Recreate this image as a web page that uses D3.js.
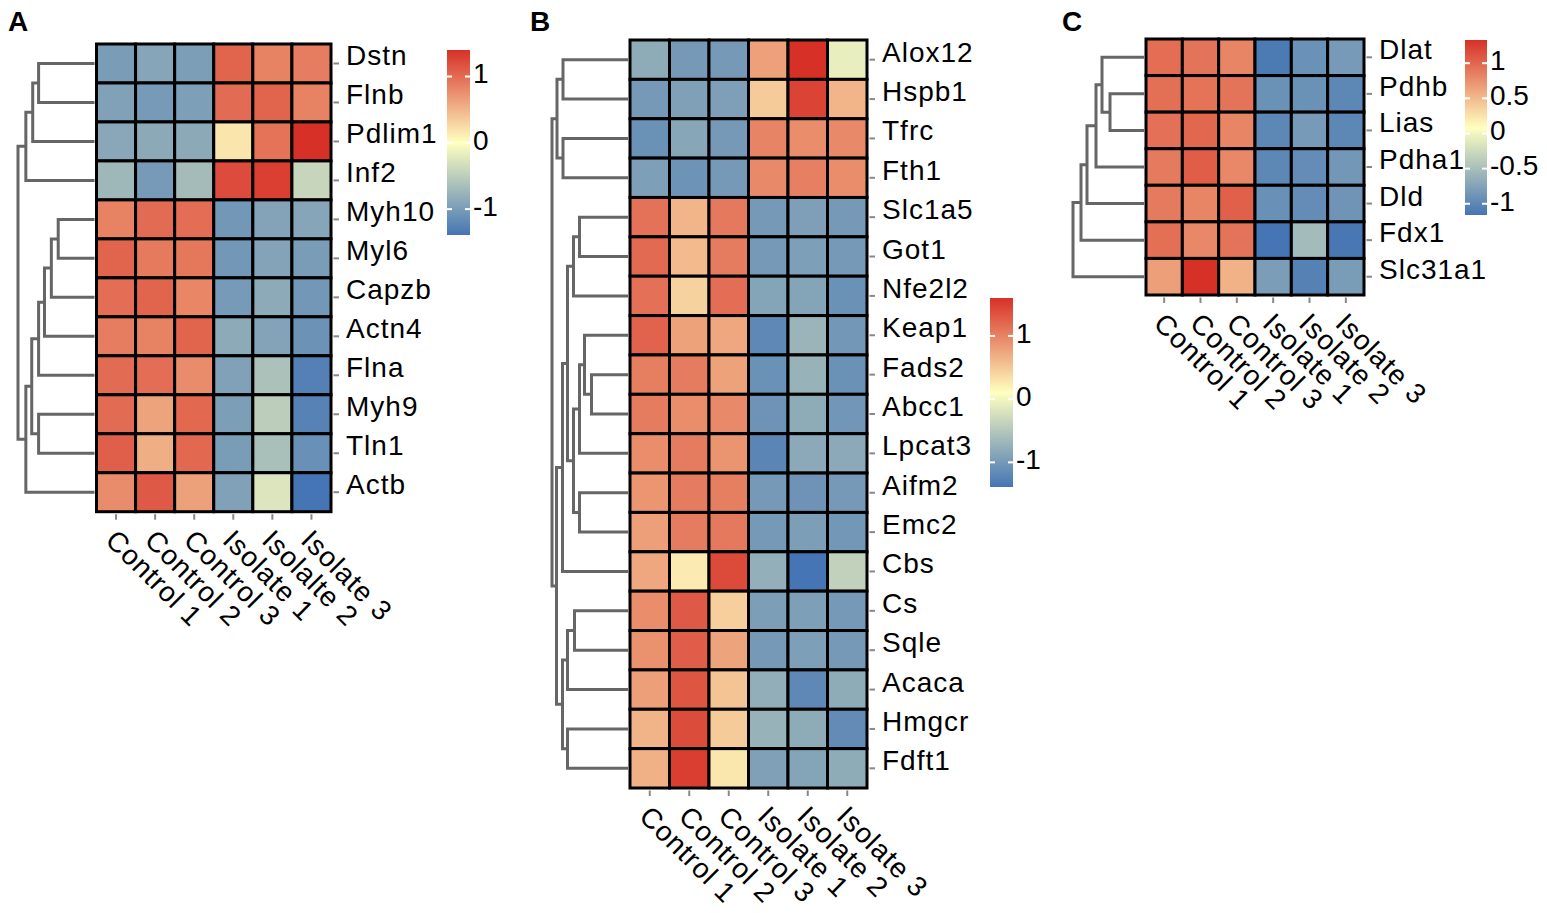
<!DOCTYPE html>
<html>
<head>
<meta charset="utf-8">
<script src="https://cdn.jsdelivr.net/npm/d3@7"></script>
<style>
  body { margin: 0; background: #fff; }
  text { font-family: "Liberation Sans", Arial, sans-serif; fill: #000; }
</style>
</head>
<body>
<div id="chart"></div>
<script>

// ---- data ----
const samplesA = ["Control 1", "Control 2", "Control 3", "Isolate 1", "Isolalte 2", "Isolate 3"];
const samplesBC = ["Control 1", "Control 2", "Control 3", "Isolate 1", "Isolate 2", "Isolate 3"];

const genesA = ["Dstn", "Flnb", "Pdlim1", "Inf2", "Myh10", "Myl6", "Capzb", "Actn4", "Flna", "Myh9", "Tln1", "Actb"];
const valuesA = [
    [-1.00, -0.90, -0.98, 1.05, 0.85, 0.88],
    [-0.95, -1.02, -0.97, 1.00, 1.05, 0.85],
    [-0.88, -0.86, -0.86, 0.18, 0.95, 1.40],
    [-0.72, -1.02, -0.68, 1.22, 1.30, -0.42],
    [0.85, 1.00, 0.98, -1.05, -0.92, -0.90],
    [1.05, 0.90, 0.92, -1.05, -0.92, -1.00],
    [0.98, 1.05, 0.82, -1.02, -0.85, -1.05],
    [0.88, 0.85, 1.05, -0.85, -0.92, -1.10],
    [1.00, 0.98, 0.78, -0.95, -0.62, -1.28],
    [1.00, 0.62, 1.02, -0.98, -0.50, -1.26],
    [1.08, 0.55, 1.02, -1.00, -0.64, -1.12],
    [0.78, 1.12, 0.64, -0.95, -0.26, -1.39]
];
// dendrogram: [height, child, child], leaves are gene names
const treeA = [7.8,
    [7.0, [6.3, [5.7, "Dstn", "Flnb"], "Pdlim1"], "Inf2"],
    [7.0, [6.4, [5.7, [5.1, [4.4, [3.7, "Myh10", "Myl6"], "Capzb"], "Actn4"], "Flna"], [5.7, "Myh9", "Tln1"]], "Actb"]
];

const genesB = ["Alox12", "Hspb1", "Tfrc", "Fth1", "Slc1a5", "Got1", "Nfe2l2", "Keap1", "Fads2", "Abcc1",
    "Lpcat3", "Aifm2", "Emc2", "Cbs", "Cs", "Sqle", "Acaca", "Hmgcr", "Fdft1"];
const valuesB = [
    [-0.80, -1.00, -1.00, 0.79, 1.60, -0.08],
    [-1.00, -0.92, -0.93, 0.48, 1.46, 0.64],
    [-1.09, -0.86, -1.00, 0.99, 0.93, 0.95],
    [-0.94, -1.07, -1.00, 0.95, 1.02, 0.93],
    [1.12, 0.64, 1.07, -1.00, -0.93, -1.00],
    [1.18, 0.60, 1.05, -1.00, -0.94, -1.00],
    [1.13, 0.43, 1.15, -0.88, -0.88, -1.09],
    [1.23, 0.78, 0.74, -1.18, -0.71, -1.02],
    [1.04, 1.05, 0.78, -1.09, -0.73, -1.09],
    [1.05, 0.93, 0.95, -1.06, -0.80, -1.03],
    [0.93, 1.05, 0.88, -1.22, -0.83, -0.83],
    [0.87, 1.05, 1.04, -1.00, -1.06, -1.00],
    [0.80, 1.05, 1.07, -1.00, -0.95, -1.02],
    [0.74, 0.25, 1.41, -0.76, -1.39, -0.39],
    [0.93, 1.30, 0.45, -0.95, -0.94, -1.00],
    [0.90, 1.27, 0.76, -1.00, -0.94, -1.00],
    [0.80, 1.33, 0.53, -0.77, -1.18, -0.80],
    [0.65, 1.40, 0.48, -0.73, -0.80, -1.15],
    [0.67, 1.50, 0.28, -0.92, -0.88, -0.80]
];
const treeB = [7.6,
    [7.1, [6.5, "Alox12", "Hspb1"], [6.5, "Tfrc", "Fth1"]],
    [7.15,
        [6.55,
            [6.05,
                [5.45, [4.85, "Slc1a5", "Got1"], "Nfe2l2"],
                [5.45, [4.85, [4.35, "Keap1", [3.65, "Fads2", "Abcc1"]], "Lpcat3"], [4.85, "Aifm2", "Emc2"]]
            ],
            "Cbs"
        ],
        [6.55, [6.05, [5.35, "Cs", "Sqle"], "Acaca"], [6.05, "Hmgcr", "Fdft1"]]
    ]
];

const genesC = ["Dlat", "Pdhb", "Lias", "Pdha1", "Dld", "Fdx1", "Slc31a1"];
const valuesC = [
    [0.96, 0.92, 0.82, -1.11, -0.91, -0.83],
    [0.95, 0.93, 0.92, -0.91, -0.91, -1.00],
    [0.94, 1.00, 0.82, -1.00, -0.83, -1.00],
    [0.88, 1.06, 0.80, -1.00, -0.95, -0.85],
    [0.88, 0.82, 1.04, -0.92, -0.95, -0.88],
    [0.95, 0.80, 0.92, -1.16, -0.53, -1.14],
    [0.66, 1.33, 0.55, -0.80, -1.05, -0.81]
];
const treeC = [7.1, [6.3, [5.7, [4.8, [4.2, "Dlat", [3.4, "Pdhb", "Lias"]], "Pdha1"], "Dld"], "Fdx1"], "Slc31a1"];

const legendTicksAB = [-1, 0, 1];
const legendTicksC = [-1, -0.5, 0, 0.5, 1];

const rampColors = ["#4575B4", "#FFFFBF", "#D73027"];

// ---- layout ----
const panels = [
    { letter: "A", letterX: 8, samples: samplesA, genes: genesA, values: valuesA, tree: treeA,
      x0: 96.5, x1: 331, y0: 44, y1: 511.7, dendroX: 18,
      legend: { x: 447, w: 23, y0: 50, y1: 235, ticks: legendTicksAB } },
    { letter: "B", letterX: 530, samples: samplesBC, genes: genesB, values: valuesB, tree: treeB,
      x0: 630, x1: 867, y0: 40, y1: 788, dendroX: 552,
      legend: { x: 990, w: 23, y0: 298, y1: 487, ticks: legendTicksAB } },
    { letter: "C", letterX: 1062, samples: samplesBC, genes: genesC, values: valuesC, tree: treeC,
      x0: 1146, x1: 1364, y0: 39, y1: 295, dendroX: 1073,
      legend: { x: 1465, w: 22, y0: 40, y1: 215, ticks: legendTicksC } }
];

const svg = d3.select("#chart").append("svg")
    .attr("width", 1547)
    .attr("height", 913);

panels.forEach(drawPanel);

function drawPanel(p) {
    const g = svg.append("g").attr("class", `panel ${p.letter}`);

    const x = d3.scaleBand().domain(p.samples).range([p.x0, p.x1]);
    const y = d3.scaleBand().domain(p.genes).range([p.y0, p.y1]);

    const [vmin, vmax] = d3.extent(p.values.flat());
    const color = d3.scaleLinear()
        .domain([vmin, (vmin + vmax) / 2, vmax])
        .range(rampColors);

    // panel letter
    g.append("text")
        .attr("x", p.letterX)
        .attr("y", 31)
        .style("font-size", "28px")
        .style("font-weight", "bold")
        .text(p.letter);

    // cells
    const cells = p.genes.flatMap((gene, i) =>
        p.samples.map((s, j) => ({ gene, sample: s, value: p.values[i][j] })));

    g.selectAll("rect.cell")
        .data(cells)
        .join("rect")
        .attr("class", "cell")
        .attr("x", d => x(d.sample))
        .attr("y", d => y(d.gene))
        .attr("width", x.bandwidth())
        .attr("height", y.bandwidth())
        .attr("fill", d => color(d.value))
        .attr("stroke", "#000")
        .attr("stroke-width", 3);

    // row ticks + labels
    g.selectAll("line.rtick")
        .data(p.genes)
        .join("line")
        .attr("class", "rtick")
        .attr("x1", p.x1 + 2.5).attr("x2", p.x1 + 8)
        .attr("y1", d => y(d) + y.bandwidth() / 2)
        .attr("y2", d => y(d) + y.bandwidth() / 2)
        .attr("stroke", "#888")
        .attr("stroke-width", 2);

    g.selectAll("text.rlab")
        .data(p.genes)
        .join("text")
        .attr("class", "rlab")
        .attr("x", p.x1 + 15)
        .attr("y", d => y(d) + y.bandwidth() / 2 + 2)
        .style("font-size", "28px")
        .style("letter-spacing", "1px")
        .text(d => d);

    // column ticks + labels
    g.selectAll("line.ctick")
        .data(p.samples)
        .join("line")
        .attr("class", "ctick")
        .attr("x1", d => x(d) + x.bandwidth() / 2)
        .attr("x2", d => x(d) + x.bandwidth() / 2)
        .attr("y1", p.y1 + 2.5).attr("y2", p.y1 + 8)
        .attr("stroke", "#888")
        .attr("stroke-width", 2);

    g.selectAll("text.clab")
        .data(p.samples)
        .join("text")
        .attr("class", "clab")
        .attr("transform", d => `translate(${x(d) + x.bandwidth() / 2 - 5},${p.y1 + 23}) rotate(45)`)
        .attr("dy", "0.35em")
        .style("font-size", "28px")
        .style("letter-spacing", "1px")
        .text(d => d);

    // row dendrogram
    const root = d3.hierarchy(p.tree, d => Array.isArray(d) ? d.slice(1) : null);
    const hScale = d3.scaleLinear()
        .domain([0, root.data[0]])
        .range([p.x0 - 2, p.dendroX]);

    root.eachAfter(n => {
        n.h = n.children ? n.data[0] : 0;
        n.yy = n.children ? d3.mean(n.children, c => c.yy) : y(n.data) + y.bandwidth() / 2;
    });

    g.selectAll("path.branch")
        .data(root.descendants().filter(n => n.children))
        .join("path")
        .attr("class", "branch")
        .attr("d", n => {
            const [a, b] = n.children;
            return `M${hScale(a.h)},${a.yy}H${hScale(n.h)}V${b.yy}H${hScale(b.h)}`;
        })
        .attr("fill", "none")
        .attr("stroke", "#666")
        .attr("stroke-width", 3);

    // colour legend
    const L = p.legend;
    const ly = d3.scaleLinear().domain([vmin, vmax]).range([L.y1, L.y0]);
    const gradId = `grad-${p.letter}`;
    const grad = svg.append("defs").append("linearGradient")
        .attr("id", gradId)
        .attr("x1", 0).attr("y1", 1).attr("x2", 0).attr("y2", 0);
    grad.selectAll("stop")
        .data(color.domain())
        .join("stop")
        .attr("offset", d => (d - vmin) / (vmax - vmin))
        .attr("stop-color", d => color(d));

    g.append("rect")
        .attr("x", L.x).attr("y", L.y0)
        .attr("width", L.w).attr("height", L.y1 - L.y0)
        .attr("fill", `url(#${gradId})`);

    const lt = g.selectAll("g.ltick")
        .data(L.ticks)
        .join("g")
        .attr("class", "ltick")
        .attr("transform", d => `translate(0,${ly(d)})`);

    lt.append("line")
        .attr("x1", L.x).attr("x2", L.x + 5)
        .attr("stroke", "#fff").attr("stroke-width", 2);
    lt.append("line")
        .attr("x1", L.x + L.w - 5).attr("x2", L.x + L.w)
        .attr("stroke", "#fff").attr("stroke-width", 2);
    lt.append("text")
        .attr("x", L.x + L.w + 3)
        .attr("y", -3)
        .attr("dy", "0.35em")
        .style("font-size", "28px")
        .text(d => String(d));
}
</script>
</body>
</html>
